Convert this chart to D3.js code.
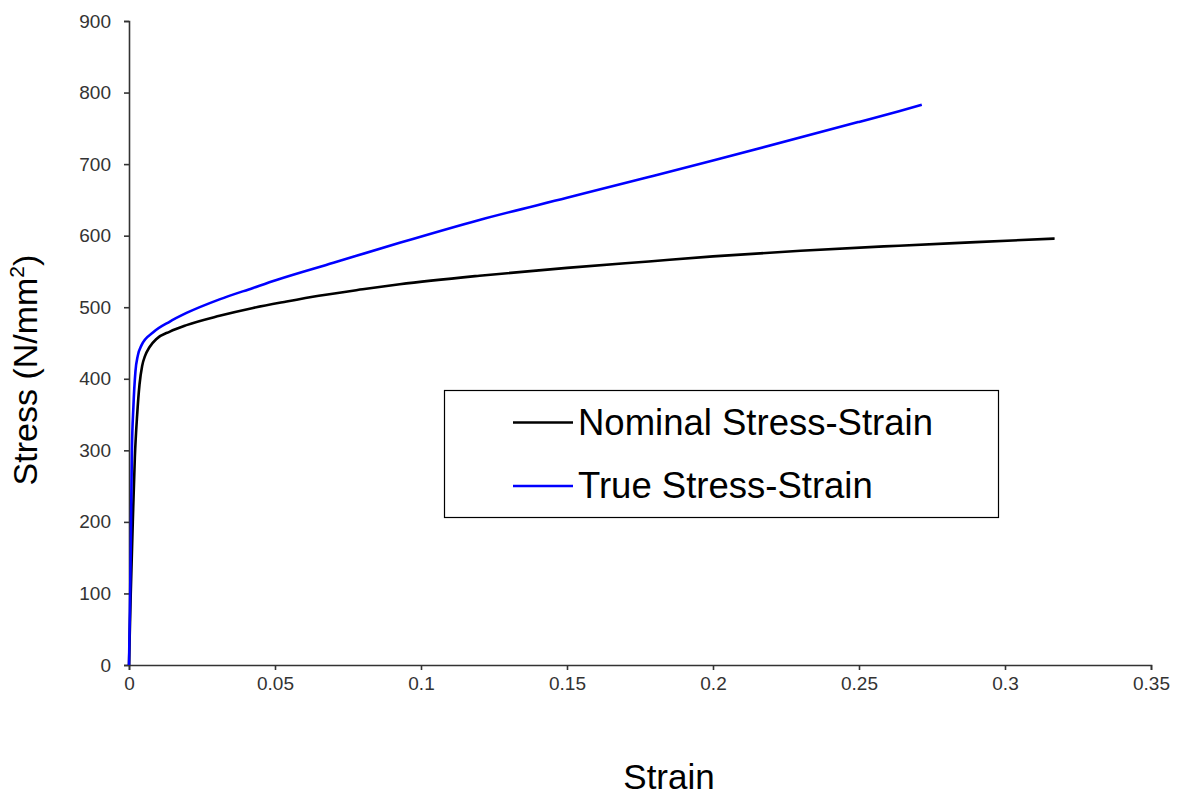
<!DOCTYPE html>
<html>
<head>
<meta charset="utf-8">
<script src="https://cdn.jsdelivr.net/npm/d3@7"></script>
<style>
  html, body { margin: 0; padding: 0; background: #fff; }
  svg { display: block; }
</style>
</head>
<body>
<svg id="chart" width="1177" height="798"></svg>
<script>
// ---- data ----
const nominalStrain = [0, 0.0006, 0.0013, 0.002, 0.0028, 0.0036, 0.0045, 0.0055, 0.007, 0.0095, 0.014, 0.0197, 0.031, 0.0425, 0.054, 0.065, 0.08, 0.0927, 0.12, 0.15, 0.178, 0.2, 0.23, 0.2637, 0.29, 0.317];
const nominalStress = [0, 100, 200, 290, 350, 392, 418, 432, 444, 456, 466, 475, 488, 499, 508, 516, 525, 532, 544, 555, 564, 571, 579, 586, 591, 596];

const trueStrain = [0, 0.0004, 0.0007, 0.001, 0.0015, 0.0022, 0.003, 0.0043, 0.0083, 0.014, 0.0197, 0.031, 0.0425, 0.0505, 0.07, 0.0927, 0.12, 0.15, 0.178, 0.2, 0.25, 0.2637, 0.2715];
const trueStress = [0, 100, 200, 300, 360, 410, 432, 447, 465, 480, 492, 511, 527, 538, 562, 590, 622, 653, 682, 705, 759, 774, 783];

const xTicks = [0, 0.05, 0.1, 0.15, 0.2, 0.25, 0.3, 0.35];
const yTicks = [0, 100, 200, 300, 400, 500, 600, 700, 800, 900];
const seriesNames = ["Nominal Stress-Strain", "True Stress-Strain"];
const seriesColors = ["#000000", "#0000ff"];

// ---- drawing ----
const svg = d3.select("#chart");
const x = d3.scaleLinear().domain([0, 0.35]).range([129, 1151]);
const y = d3.scaleLinear().domain([0, 900]).range([665, 21]);

const tickFont = "'Liberation Sans', Arial, sans-serif";

const xAxis = svg.append("g")
  .attr("transform", `translate(0,${y(0)})`)
  .call(d3.axisBottom(x).tickValues(xTicks).tickSize(5).tickPadding(7)
    .tickFormat(d => d3.format("~g")(d)));
const yAxis = svg.append("g")
  .attr("transform", `translate(${x(0)},0)`)
  .call(d3.axisLeft(y).tickValues(yTicks).tickSize(5).tickPadding(13)
    .tickFormat(d3.format("d")));

[xAxis, yAxis].forEach(g => {
  g.select(".domain").attr("stroke", "#333").attr("stroke-width", 1.6);
  g.selectAll(".tick line").attr("stroke", "#333").attr("stroke-width", 1.6);
  g.selectAll(".tick text").attr("fill", "#333")
    .style("font-family", tickFont).style("font-size", "19px");
});

const line = d3.line().x(d => x(d[0])).y(d => y(d[1])).curve(d3.curveMonotoneX);

const nominalData = nominalStrain.map((s, i) => [s, nominalStress[i]]);
const trueData = trueStrain.map((s, i) => [s, trueStress[i]]);

svg.append("path").datum(nominalData)
  .attr("fill", "none").attr("stroke", seriesColors[0])
  .attr("stroke-width", 2.6).attr("stroke-linejoin", "round")
  .attr("d", line);
svg.append("path").datum(trueData)
  .attr("fill", "none").attr("stroke", seriesColors[1])
  .attr("stroke-width", 2.6).attr("stroke-linejoin", "round")
  .attr("d", line);

// axis titles
const labelFont = "'Liberation Sans', Arial, sans-serif";
svg.append("text")
  .attr("x", 669).attr("y", 789)
  .attr("text-anchor", "middle")
  .style("font-family", labelFont).style("font-size", "35px")
  .attr("fill", "#000")
  .text("Strain");

const yl = svg.append("text")
  .attr("transform", "translate(37,370) rotate(-90)")
  .attr("text-anchor", "middle")
  .style("font-family", labelFont).style("font-size", "34px")
  .attr("fill", "#000");
yl.append("tspan").text("Stress (N/mm");
yl.append("tspan").attr("dy", -13).style("font-size", "21px").text("2");
yl.append("tspan").attr("dy", 13).text(")");

// legend
const legend = svg.append("g");
legend.append("rect")
  .attr("x", 444.5).attr("y", 390.5).attr("width", 554).attr("height", 127)
  .attr("fill", "#fff").attr("stroke", "#000").attr("stroke-width", 1.2);
const legY = [422.5, 486];
seriesNames.forEach((name, i) => {
  legend.append("line")
    .attr("x1", 513).attr("x2", 573).attr("y1", legY[i]).attr("y2", legY[i])
    .attr("stroke", seriesColors[i]).attr("stroke-width", 2.6);
  legend.append("text")
    .attr("x", 578).attr("y", legY[i] + 12)
    .style("font-family", labelFont).style("font-size", "36.5px")
    .attr("fill", "#000")
    .text(name);
});
</script>
</body>
</html>
